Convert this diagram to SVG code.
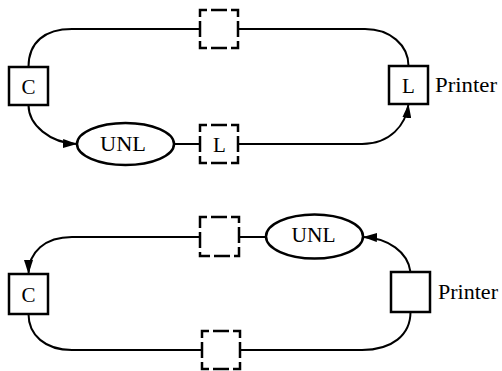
<svg xmlns="http://www.w3.org/2000/svg" width="502" height="371" viewBox="0 0 502 371">
<style>
.box{fill:#fff;stroke:#000;stroke-width:2.5}
.dbox{fill:#fff;stroke:#000;stroke-width:2.5;stroke-dasharray:14 4 16 4;stroke-dashoffset:7}
.ell{fill:#fff;stroke:#000;stroke-width:2.5}
.ln{fill:none;stroke:#000;stroke-width:2}
.t{font-family:"Liberation Serif","Times New Roman",serif;font-size:21px;fill:#000;text-anchor:middle}
.lbl{font-family:"Liberation Serif","Times New Roman",serif;font-size:20px;fill:#000}
</style>
<defs>
<marker id="arr" markerUnits="userSpaceOnUse" markerWidth="15" markerHeight="9" refX="14" refY="4.5" orient="auto">
<path d="M0,0 L14,4.5 L0,9 z" fill="#000"/>
</marker>
</defs>
<g id="connectors">
<path class="ln" d="M28.5,67 C28.5,42 45,29 72,29 L200,29"/>
<path class="ln" d="M239,29 L365,29 C390,29 408.5,45 408.5,66"/>
<path class="ln" d="M28.5,105 C28.5,125 50,143 77,144" marker-end="url(#arr)"/>
<path class="ln" d="M174,144 L200,144"/>
<path class="ln" d="M239,144 L362,144 C390,144 406,125 408.5,104" marker-end="url(#arr)"/>
<path class="ln" d="M266,237 L240,237"/>
<path class="ln" d="M200,237 L72,237 C45,237 28.5,252 28.5,274" marker-end="url(#arr)"/>
<path class="ln" d="M410.5,272 C408,252 388,238 363,237" marker-end="url(#arr)"/>
<path class="ln" d="M410.5,312 C410.5,335 392,350 362,350 L240,350"/>
<path class="ln" d="M202,350 L72,350 C45,350 28.5,335 28.5,314"/>
</g>
<g id="top-C">
<rect class="box" x="9" y="67" width="39" height="38"/>
<text class="t" x="28.5" y="94">C</text>
</g>
<g id="top-dashed">
<rect class="dbox" x="200" y="10" width="38" height="38"/>
</g>
<g id="top-UNL">
<ellipse class="ell" cx="125.5" cy="144" rx="48.5" ry="21"/>
<text class="t" x="123" y="151" textLength="46" lengthAdjust="spacingAndGlyphs">UNL</text>
</g>
<g id="top-L-dashed">
<rect class="dbox" x="200" y="125" width="38" height="38"/>
<text class="t" x="219.5" y="152">L</text>
</g>
<g id="top-printer">
<rect class="box" x="389" y="66" width="39" height="38"/>
<text class="t" x="408.5" y="93">L</text>
<text class="lbl" x="435" y="92" textLength="62" lengthAdjust="spacingAndGlyphs">Printer</text>
</g>
<g id="bot-C">
<rect class="box" x="9" y="274" width="39" height="40"/>
<text class="t" x="28.5" y="302">C</text>
</g>
<g id="bot-dashed-top">
<rect class="dbox" x="200" y="217" width="39" height="39"/>
</g>
<g id="bot-UNL">
<ellipse class="ell" cx="314.5" cy="236.5" rx="48.5" ry="22"/>
<text class="t" x="313.5" y="242" textLength="44" lengthAdjust="spacingAndGlyphs">UNL</text>
</g>
<g id="bot-dashed-bottom">
<rect class="dbox" x="202" y="331" width="38" height="38"/>
</g>
<g id="bot-printer">
<rect class="box" x="391" y="272" width="39" height="40"/>
<text class="lbl" x="438" y="299" textLength="60" lengthAdjust="spacingAndGlyphs">Printer</text>
</g>
</svg>
